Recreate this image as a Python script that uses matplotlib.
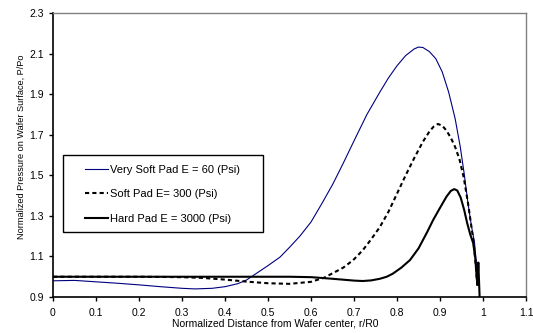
import matplotlib
matplotlib.use("Agg")
import matplotlib.pyplot as plt
from matplotlib.patches import Rectangle

plt.rcParams['font.family'] = ['Liberation Sans', 'DejaVu Sans']

# Very soft pad E = 60 psi
x_vsoft = [0.0, 0.05, 0.1, 0.15, 0.2, 0.25, 0.3, 0.33, 0.37, 0.4, 0.43, 0.45, 0.474,
           0.5, 0.528, 0.55, 0.574, 0.6, 0.625, 0.651, 0.675, 0.7, 0.73, 0.76,
           0.78, 0.8, 0.82, 0.84, 0.85, 0.86, 0.875, 0.89, 0.905, 0.92, 0.935,
           0.947, 0.956, 0.965, 0.973, 0.98, 0.984, 0.986]
y_vsoft = [0.98, 0.982, 0.975, 0.968, 0.96, 0.951, 0.943, 0.94, 0.943, 0.951, 0.966,
           0.984, 1.018, 1.055, 1.097, 1.145, 1.2, 1.27, 1.36, 1.458, 1.56, 1.67,
           1.8, 1.91, 1.98, 2.04, 2.09, 2.123, 2.132, 2.13, 2.11, 2.075, 2.01, 1.91,
           1.78, 1.64, 1.51, 1.36, 1.25, 1.17, 1.08, 0.97]

# Soft pad E = 300 psi
x_soft = [0.0, 0.1, 0.2, 0.3, 0.35, 0.4, 0.45, 0.5, 0.55, 0.6, 0.63, 0.651, 0.675,
          0.698, 0.72, 0.74, 0.76, 0.78, 0.8, 0.82, 0.84, 0.86, 0.875, 0.885, 0.895,
          0.905, 0.915, 0.925, 0.935, 0.945, 0.955, 0.965, 0.972, 0.978, 0.983, 0.987]
y_soft = [1.0, 1.0, 1.0, 0.998, 0.994, 0.986, 0.976, 0.968, 0.965, 0.975, 0.995,
          1.018, 1.045, 1.082, 1.13, 1.185, 1.245, 1.32, 1.41, 1.5, 1.585, 1.665,
          1.715, 1.74, 1.753, 1.745, 1.72, 1.685, 1.64, 1.58, 1.49, 1.363, 1.26,
          1.17, 1.06, 0.95]

# Hard pad E = 3000 psi
x_hard = [0.0, 0.1, 0.2, 0.3, 0.4, 0.5, 0.55, 0.6, 0.65, 0.7, 0.72, 0.74, 0.76, 0.776,
          0.79, 0.81, 0.83, 0.85, 0.87, 0.884, 0.9, 0.915, 0.925, 0.933, 0.94, 0.948,
          0.956, 0.963, 0.97, 0.977, 0.982, 0.985, 0.987, 0.989, 0.992]
y_hard = [1.0, 1.0, 1.0, 1.0, 1.0, 1.0, 1.0, 0.998, 0.99, 0.981, 0.979, 0.982, 0.99,
          1.0, 1.015, 1.045, 1.082, 1.14, 1.22, 1.28, 1.34, 1.395, 1.423, 1.432,
          1.425, 1.39, 1.33, 1.265, 1.21, 1.166, 1.09, 1.0, 0.96, 1.07, 0.9]

fig = plt.figure(figsize=(5.33, 3.33), dpi=100)
ax = fig.add_axes([0.0994, 0.108, 0.8876, 0.853])

ax.plot(x_vsoft, y_vsoft, color='#000080', lw=0.8, label='Very Soft Pad E = 60 (Psi)')
ax.plot(x_soft, y_soft, color='black', lw=1.5, linestyle=(0, (2, 1.5)),
        label='Soft Pad E= 300 (Psi)')
ax.plot(x_hard, y_hard, color='black', lw=1.5, label='Hard Pad E = 3000 (Psi)')

ax.set_xlim(0, 1.1)
ax.set_ylim(0.9, 2.3)
ax.set_xticks([i / 10 for i in range(12)])
ax.set_xticklabels(['0', '0.1', '0.2', '0.3', '0.4', '0.5', '0.6', '0.7', '0.8',
                    '0.9', '1', '1.1'])
ax.set_yticks([0.9, 1.1, 1.3, 1.5, 1.7, 1.9, 2.1, 2.3])
ax.set_yticklabels(['0.9', '1.1', '1.3', '1.5', '1.7', '1.9', '2.1', '2.3'])
ax.tick_params(direction='out', length=3, width=1, labelsize=7.5, color='black')
ax.tick_params(axis='x', pad=5)
ax.tick_params(axis='y', pad=3.5)

for side in ['left', 'bottom']:
    ax.spines[side].set_color('black')
    ax.spines[side].set_linewidth(1.2)
for side in ['top', 'right']:
    ax.spines[side].set_color('#808080')
    ax.spines[side].set_linewidth(1.0)

ax.set_xlabel('Normalized Distance from Wafer center, r/R0', fontsize=7.5, labelpad=1)
ax.xaxis.set_label_coords(0.469, -0.075)
ax.set_ylabel('Normalized Pressure on Wafer Surface, P/Po', fontsize=6.6)
ax.yaxis.set_label_coords(-0.058, 0.528)

# legend box drawn separately so the entries can sit well inside it
ax.add_patch(Rectangle((0.0211, 0.2289), 0.4228, 0.2711, transform=ax.transAxes,
                       facecolor='white', edgecolor='black', lw=1.0, zorder=4))
leg = ax.legend(loc='upper left', bbox_to_anchor=(0.0677, 0.466), borderaxespad=0,
                borderpad=0, fontsize=8, frameon=False, handlelength=2.07,
                handletextpad=0.18, labelspacing=1.3)
leg.set_zorder(5)

fig.savefig('out.png', dpi=100)
